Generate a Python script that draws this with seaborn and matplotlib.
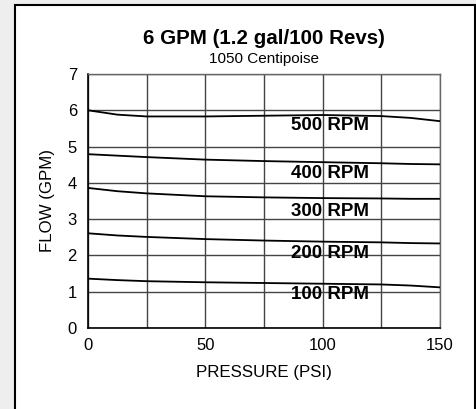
import pandas as pd
import matplotlib.pyplot as plt
import matplotlib.patches as patches
import seaborn as sns

# values
pressure = [0, 12.5, 25, 50, 75, 100, 125, 137.5, 150]
flow_500 = [6.00, 5.88, 5.83, 5.83, 5.85, 5.87, 5.84, 5.79, 5.70]
flow_400 = [4.79, 4.75, 4.71, 4.64, 4.60, 4.57, 4.54, 4.52, 4.51]
flow_300 = [3.86, 3.77, 3.71, 3.63, 3.60, 3.58, 3.57, 3.56, 3.56]
flow_200 = [2.61, 2.55, 2.51, 2.45, 2.41, 2.38, 2.36, 2.34, 2.33]
flow_100 = [1.36, 1.32, 1.29, 1.26, 1.24, 1.22, 1.20, 1.17, 1.12]
rpm_labels = ["500 RPM", "400 RPM", "300 RPM", "200 RPM", "100 RPM"]
label_y = [5.59, 4.27, 3.22, 2.04, 0.91]
label_x = 103
x_ticks = [0, 25, 50, 75, 100, 125, 150]
x_tick_labels = ["0", "", "50", "", "100", "", "150"]
y_ticks = [0, 1, 2, 3, 4, 5, 6, 7]

series = [flow_500, flow_400, flow_300, flow_200, flow_100]
df = pd.concat(
    [pd.DataFrame({"pressure": pressure, "flow": f, "rpm": r}) for f, r in zip(series, rpm_labels)],
    ignore_index=True,
)

sns.set_theme(style="white")
plt.rcParams["font.family"] = ["Liberation Sans", "DejaVu Sans"]
plt.rcParams["text.color"] = "black"

fig = plt.figure(figsize=(4.77, 4.09), dpi=100)
fig.patch.set_facecolor("#eeeeee")
# white panel with black frame
fig.patches.append(patches.Rectangle((15 / 477, -0.1), 460 / 477, 1.1 - 5 / 409,
                                     transform=fig.transFigure, facecolor="white",
                                     edgecolor="black", linewidth=1.5, zorder=-1))

ax = fig.add_axes([88 / 477, 1 - 328 / 409, 352 / 477, 254 / 409])
ax.set_zorder(2)
ax.set_facecolor("white")

sns.lineplot(data=df, x="pressure", y="flow", units="rpm", estimator=None,
             color="black", linewidth=1.3, ax=ax, zorder=3)

for lab, y in zip(rpm_labels, label_y):
    ax.text(label_x, y, lab, ha="center", va="center", fontsize=13.5,
            fontweight="bold", color="black", zorder=2)

ax.set_xlim(0, 150)
ax.set_ylim(0, 7)
ax.set_xticks(x_ticks)
ax.set_xticklabels(x_tick_labels)
ax.set_yticks(y_ticks)
ax.grid(True, color="#444444", linewidth=1)
ax.tick_params(axis="both", length=0, labelsize=12, colors="black")
ax.tick_params(axis="x", pad=7)
ax.tick_params(axis="y", pad=8)

for side in ["left", "bottom"]:
    ax.spines[side].set_color("black")
    ax.spines[side].set_linewidth(1.2)
for side in ["top", "right"]:
    ax.spines[side].set_color("#666666")
    ax.spines[side].set_linewidth(1)

ax.set_xlabel("PRESSURE (PSI)", fontsize=12.2, color="black", labelpad=9)
ax.set_ylabel("FLOW (GPM)", fontsize=12.2, color="black", labelpad=9)

fig.text(264 / 477, 1 - 38 / 409, "6 GPM (1.2 gal/100 Revs)", ha="center", va="center",
         fontsize=14.8, fontweight="bold")
fig.text(264 / 477, 1 - 59 / 409, "1050 Centipoise", ha="center", va="center", fontsize=11)

plt.savefig("out.png", dpi=100, facecolor=fig.get_facecolor())
